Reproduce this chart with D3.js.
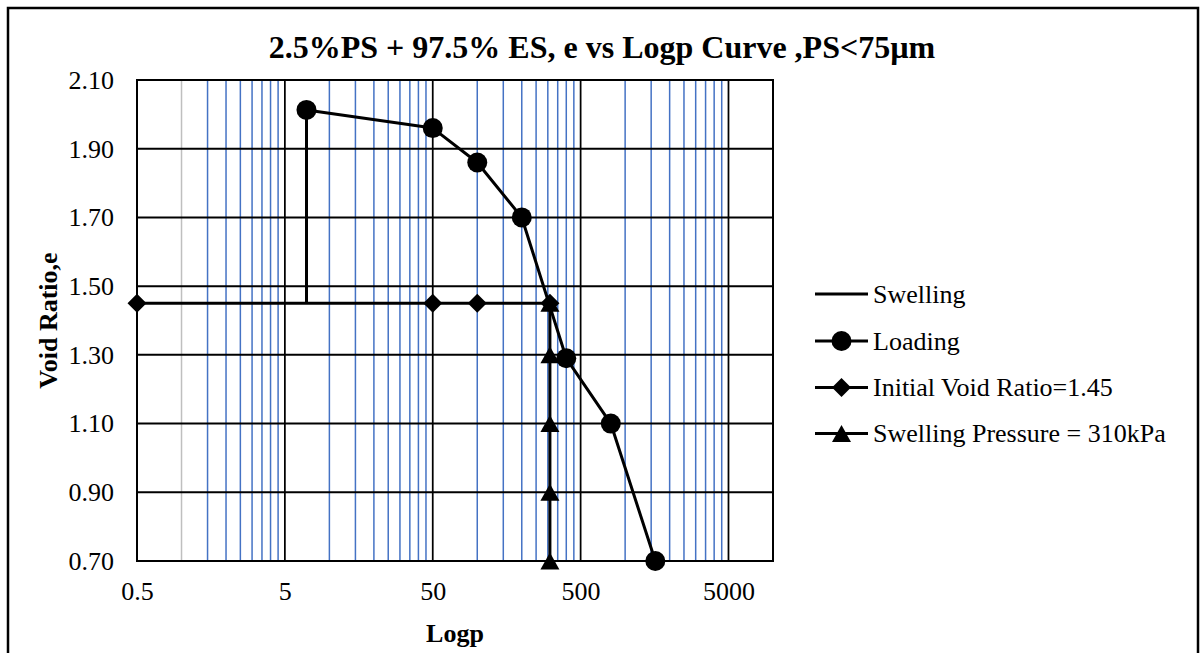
<!DOCTYPE html>
<html>
<head>
<meta charset="utf-8">
<script src="https://cdn.jsdelivr.net/npm/d3@7"></script>
<style>
  html, body { margin: 0; padding: 0; background: #fff; }
  svg { display: block; }
  text { font-family: "Times New Roman", "Liberation Serif", serif; fill: #000; }
</style>
</head>
<body>
<svg id="chart" width="1200" height="653"></svg>
<script>
// Consolidation test: void ratio against log of pressure (kPa)
const majorTicks = [0.5, 5, 50, 500, 5000];
const tickLabels = ["0.5", "5", "50", "500", "5000"];
const yTicks = [0.70, 0.90, 1.10, 1.30, 1.50, 1.70, 1.90, 2.10];

const swellingP = [7, 7];
const swellingE = [1.45, 2.013];

const loadingP = [7, 50, 100, 200, 400, 800, 1600];
const loadingE = [2.013, 1.96, 1.86, 1.70, 1.29, 1.10, 0.70];

const initialP = [0.5, 50, 100, 310];
const initialE = [1.45, 1.45, 1.45, 1.45];

const pressureP = [310, 310, 310, 310, 310];
const pressureE = [1.45, 1.30, 1.10, 0.90, 0.70];

const seriesNames = ["Swelling", "Loading", "Initial Void Ratio=1.45", "Swelling Pressure = 310kPa"];

const svg = d3.select("#chart");

const plot = { left: 137, right: 773, top: 80, bottom: 561 };

const x = d3.scaleLog().domain([0.5, 10000]).range([plot.left, plot.right]);
const y = d3.scaleLinear().domain([0.70, 2.10]).range([plot.bottom, plot.top]);

// outer chart frame
svg.append("rect")
  .attr("x", 8).attr("y", 8).attr("width", 1190).attr("height", 700)
  .attr("fill", "none").attr("stroke", "#000").attr("stroke-width", 2.5);

// minor vertical gridlines: 2..9 times each major value
const minorVals = [];
majorTicks.slice(0, 4).forEach(m => {
  for (let k = 2; k <= 9; k++) minorVals.push(m * k);
});

const grid = svg.append("g");
grid.selectAll("line.minor")
  .data(minorVals)
  .join("line")
  .attr("class", "minor")
  .attr("x1", d => x(d)).attr("x2", d => x(d))
  .attr("y1", plot.top).attr("y2", plot.bottom)
  .attr("stroke", (d, i) => i === 0 ? "#BFBFBF" : "#4472C4")
  .attr("stroke-width", 1.5);

// major vertical gridlines
grid.selectAll("line.vmajor")
  .data(majorTicks.slice(1))
  .join("line")
  .attr("class", "vmajor")
  .attr("x1", d => x(d)).attr("x2", d => x(d))
  .attr("y1", plot.top).attr("y2", plot.bottom)
  .attr("stroke", "#000")
  .attr("stroke-width", 1.75);

// horizontal gridlines
grid.selectAll("line.hmajor")
  .data(yTicks)
  .join("line")
  .attr("class", "hmajor")
  .attr("x1", plot.left).attr("x2", plot.right)
  .attr("y1", d => y(d)).attr("y2", d => y(d))
  .attr("stroke", "#000")
  .attr("stroke-width", 2);

// plot area border
svg.append("rect")
  .attr("x", plot.left).attr("y", plot.top)
  .attr("width", plot.right - plot.left).attr("height", plot.bottom - plot.top)
  .attr("fill", "none").attr("stroke", "#000").attr("stroke-width", 2);

// axes (labels only, no tick marks)
const xAxis = d3.axisBottom(x)
  .tickValues(majorTicks)
  .tickFormat((d, i) => tickLabels[i])
  .tickSize(0).tickPadding(21);
const gx = svg.append("g").attr("transform", `translate(0,${plot.bottom})`).call(xAxis);
gx.select(".domain").remove();
gx.selectAll("text").attr("font-size", 26).attr("font-family", "'Times New Roman','Liberation Serif',serif");

const yAxis = d3.axisLeft(y)
  .tickValues(yTicks)
  .tickFormat(d3.format(".2f"))
  .tickSize(0).tickPadding(23);
const gy = svg.append("g").attr("transform", `translate(${plot.left},0)`).call(yAxis);
gy.select(".domain").remove();
gy.selectAll("text").attr("font-size", 26).attr("font-family", "'Times New Roman','Liberation Serif',serif");

// marker shapes
const markerPath = {
  none: null,
  circle: "M10,0A10,10,0,1,1,-10,0A10,10,0,1,1,10,0Z",
  diamond: "M0,-9.5L9.5,0L0,9.5L-9.5,0Z",
  triangle: "M0,-8.5L9.5,8.5L-9.5,8.5Z"
};

const series = [
  { name: seriesNames[0], p: swellingP, e: swellingE, marker: "none" },
  { name: seriesNames[1], p: loadingP, e: loadingE, marker: "circle" },
  { name: seriesNames[2], p: initialP, e: initialE, marker: "diamond" },
  { name: seriesNames[3], p: pressureP, e: pressureE, marker: "triangle" }
];

const line = d3.line().x(d => x(d[0])).y(d => y(d[1]));

series.forEach(s => {
  const pts = s.p.map((v, i) => [v, s.e[i]]);
  const g = svg.append("g");
  g.append("path")
    .attr("d", line(pts))
    .attr("fill", "none")
    .attr("stroke", "#000")
    .attr("stroke-width", 3)
    .attr("stroke-linejoin", "round");
  if (markerPath[s.marker]) {
    g.selectAll("path.m")
      .data(pts)
      .join("path")
      .attr("class", "m")
      .attr("d", markerPath[s.marker])
      .attr("transform", d => `translate(${x(d[0])},${y(d[1])})`)
      .attr("fill", "#000");
  }
});

// legend
const legend = svg.append("g");
const legendRows = [294, 341, 387.5, 433.5];
series.forEach((s, i) => {
  const ly = legendRows[i];
  legend.append("line")
    .attr("x1", 815).attr("x2", 868)
    .attr("y1", ly).attr("y2", ly)
    .attr("stroke", "#000").attr("stroke-width", 3);
  if (markerPath[s.marker]) {
    legend.append("path")
      .attr("d", markerPath[s.marker])
      .attr("transform", `translate(841.5,${ly})`)
      .attr("fill", "#000");
  }
  legend.append("text")
    .attr("x", 873).attr("y", ly)
    .attr("dy", "0.33em")
    .attr("font-size", 26)
    .text(s.name);
});

// title and axis titles
svg.append("text")
  .attr("x", 602).attr("y", 58)
  .attr("text-anchor", "middle")
  .attr("font-size", 32).attr("font-weight", "bold")
  .text("2.5%PS + 97.5% ES, e vs Logp Curve ,PS<75µm");

svg.append("text")
  .attr("x", 455).attr("y", 642)
  .attr("text-anchor", "middle")
  .attr("font-size", 26).attr("font-weight", "bold")
  .text("Logp");

svg.append("text")
  .attr("transform", `translate(57,${(plot.top + plot.bottom) / 2}) rotate(-90)`)
  .attr("text-anchor", "middle")
  .attr("font-size", 26).attr("font-weight", "bold")
  .text("Void Ratio,e");
</script>
</body>
</html>
